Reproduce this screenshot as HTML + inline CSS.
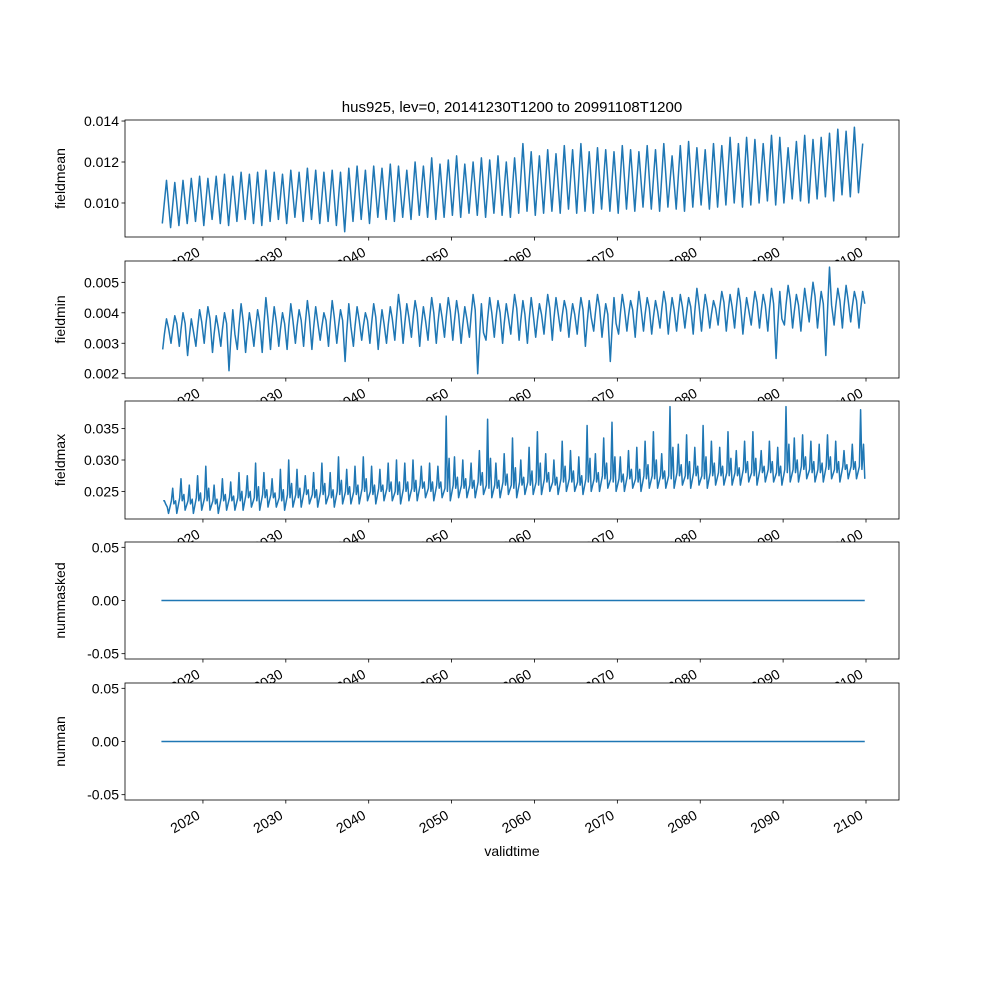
<!DOCTYPE html>
<html><head><meta charset="utf-8"><style>
body{margin:0;background:#fff}
svg text{font-family:"Liberation Sans","DejaVu Sans",sans-serif;font-size:14px;fill:#000}
</style></head><body>
<svg id="chart" width="1000" height="1000" xmlns="http://www.w3.org/2000/svg"></svg>
<script>
const years=[];for(let y=2015;y<=2099;y++)years.push(y);
const meanPeak=[11.1,11.0,11.1,11.2,11.3,11.2,11.3,11.4,11.3,11.5,11.4,11.5,11.6,11.5,11.4,11.6,11.5,11.7,11.6,11.5,11.6,11.5,11.7,11.8,11.6,11.8,11.7,11.9,11.8,11.6,12.0,11.8,12.2,11.9,12.1,12.3,11.9,12.0,12.2,12.1,12.3,12.0,12.2,12.9,12.5,12.3,12.6,12.4,12.8,12.6,12.9,12.5,12.7,12.6,12.5,12.8,12.6,12.5,12.8,12.6,12.9,12.3,12.8,13.0,12.7,12.6,12.9,12.8,13.2,12.9,13.2,13.1,12.9,13.3,13.2,12.7,13.0,13.3,13.1,13.2,13.4,13.6,13.5,13.7,12.9];
const meanTrough=[9.0,8.8,8.9,9.0,9.1,8.9,9.2,9.0,8.9,9.1,9.2,9.0,8.9,9.1,9.2,9.0,9.3,9.1,9.2,9.0,9.1,8.9,8.6,9.1,9.2,9.0,9.3,9.2,9.1,9.3,9.2,9.4,9.3,9.2,9.3,9.4,9.3,9.5,9.4,9.3,9.5,9.4,9.3,9.5,9.6,9.4,9.5,9.6,9.5,9.7,9.5,9.6,9.5,9.7,9.6,9.5,9.7,9.6,9.8,9.7,9.6,9.8,9.7,9.6,9.8,9.9,9.7,9.8,9.9,10.0,9.8,9.9,10.0,10.1,9.9,10.0,10.2,10.1,10.0,10.2,10.3,10.1,10.4,10.3,10.5];
const minPeak=[3.8,3.9,4.0,3.8,4.1,4.2,3.9,4.0,4.1,4.3,4.0,4.1,4.5,4.2,4.0,4.3,4.1,4.4,4.2,4.0,4.4,4.1,4.3,4.2,4.0,4.3,4.1,4.2,4.6,4.3,4.4,4.2,4.5,4.3,4.5,4.4,4.2,4.6,4.3,4.5,4.4,4.3,4.6,4.4,4.5,4.3,4.6,4.5,4.4,4.3,4.5,4.4,4.6,4.3,4.5,4.6,4.4,4.7,4.5,4.4,4.7,4.5,4.6,4.5,4.8,4.6,4.4,4.7,4.6,4.8,4.5,4.7,4.6,4.8,4.7,4.9,4.6,4.8,5.0,4.7,5.5,4.8,4.9,4.7,4.7];
const minTrough=[2.8,3.0,2.9,2.6,2.9,3.0,2.7,2.9,2.1,2.8,2.7,2.9,2.7,2.8,2.9,2.8,3.0,2.9,2.8,3.1,2.9,3.0,2.4,2.9,3.1,3.0,2.8,3.0,3.1,3.0,3.2,2.9,3.1,3.0,3.2,3.1,3.0,3.2,2.0,3.1,3.2,3.0,3.3,3.1,3.0,3.2,3.3,3.1,3.4,3.2,3.3,2.9,3.4,3.2,2.4,3.3,3.4,3.2,3.4,3.3,3.5,3.3,3.4,3.5,3.3,3.4,3.5,3.6,3.4,3.5,3.3,3.6,3.5,3.4,2.5,3.6,3.5,3.4,3.7,3.5,2.6,3.6,3.5,3.7,3.5];
const maxHigh=[23.5,25.5,27.0,26.0,27.5,29.0,26.0,27.0,26.5,28.0,27.5,29.5,28.0,27.0,28.5,30.0,28.5,27.5,28.0,29.5,28.0,30.5,28.5,29.0,30.5,29.0,28.5,29.5,30.0,29.5,30.0,29.0,29.5,29.0,37.0,30.5,30.0,29.5,31.5,36.5,29.5,31.0,33.5,30.0,32.0,34.5,31.0,30.0,33.0,31.5,30.5,35.5,31.0,33.5,36.0,30.5,31.5,32.0,33.0,34.5,31.0,38.5,32.5,34.0,32.0,35.5,33.0,32.0,34.5,31.5,33.0,34.5,31.5,33.0,32.0,38.5,33.5,34.0,33.0,32.5,34.0,33.0,31.5,32.5,38.0];
const maxLow=[21.5,21.5,22.0,21.5,22.0,22.0,21.5,22.0,22.0,22.0,22.5,22.0,22.5,22.5,22.0,22.5,22.5,23.0,22.5,23.0,22.5,23.0,23.0,23.0,23.5,23.0,23.5,23.5,23.0,23.5,23.5,24.0,23.5,24.0,23.5,24.0,24.0,24.0,24.5,24.0,24.0,24.5,24.0,24.5,24.5,24.5,25.0,24.5,25.0,25.0,24.5,25.0,25.0,25.5,25.0,25.0,25.5,25.0,25.5,25.5,25.5,25.5,26.0,25.5,26.0,25.5,26.0,26.0,26.0,26.0,26.5,26.0,26.5,26.5,26.0,26.5,26.5,27.0,26.5,26.5,27.0,26.5,27.0,27.0,27.0];
const xTicks=[2020,2030,2040,2050,2060,2070,2080,2090,2100];

const NS="http://www.w3.org/2000/svg",svg=document.getElementById('chart');
const L=125,R=899,X0=2015,X1=2100,xa=161.5,xb=866;
const xs=t=>xa+(t-X0)*(xb-xa)/(X1-X0);
function mk(tag,attrs,parent){const e=document.createElementNS(NS,tag);for(const k in attrs)e.setAttribute(k,attrs[k]);(parent||svg).appendChild(e);return e;}
const panels=[
 {name:'fieldmean',top:120,bot:237,lo:0.00834,hi:0.01405,ticks:[0.010,0.012,0.014],fmt:v=>v.toFixed(3)},
 {name:'fieldmin',top:261,bot:378,lo:0.00186,hi:0.00570,ticks:[0.002,0.003,0.004,0.005],fmt:v=>v.toFixed(3)},
 {name:'fieldmax',top:401,bot:519,lo:0.0206,hi:0.0394,ticks:[0.025,0.030,0.035],fmt:v=>v.toFixed(3)},
 {name:'nummasked',top:542,bot:659,lo:-0.055,hi:0.055,ticks:[-0.05,0,0.05],fmt:v=>v.toFixed(2)},
 {name:'numnan',top:683,bot:800,lo:-0.055,hi:0.055,ticks:[-0.05,0,0.05],fmt:v=>v.toFixed(2)}];
const t=mk('text',{x:512,y:112,'text-anchor':'middle'});


t.textContent='hus925, lev=0, 20141230T1200 to 20991108T1200';t.style.fontSize='15px';
function seriesPts(i){
 const pts=[];
 years.forEach((y,k)=>{
  if(i===0){pts.push([y+0.1,meanTrough[k]*1e-3]);pts.push([y+0.6,meanPeak[k]*1e-3]);}
  else if(i===1){pts.push([y+0.15,minTrough[k]*1e-3]);pts.push([y+0.35,(minTrough[k]+minPeak[k])/2e3]);pts.push([y+0.6,minPeak[k]*1e-3]);pts.push([y+0.85,(minTrough[k]+minPeak[k])/2e3+0.0002]);}
  else if(i===2){pts.push([y+0.2,maxLow[k]*1e-3+0.002]);pts.push([y+0.35,maxHigh[k]*1e-3]);pts.push([y+0.5,maxLow[k]*1e-3+0.0015]);pts.push([y+0.7,(maxHigh[k]+maxLow[k])/2e3]);pts.push([y+0.85,maxLow[k]*1e-3]);}
 });
 return pts;
}
panels.forEach((p,i)=>{
 const g=mk('g',{});
 
 
 const ys=v=>p.bot-(v-p.lo)*(p.bot-p.top)/(p.hi-p.lo);
 mk('rect',{x:L,y:p.top,width:R-L,height:p.bot-p.top,fill:'#fff'},g);
 let d='';
 if(i<3){seriesPts(i).forEach((q,k)=>{d+=(k?'L':'M')+xs(q[0]).toFixed(1)+','+ys(q[1]).toFixed(1);});}
 else d='M'+xs(2014.99)+','+ys(0)+'L'+xs(2099.85)+','+ys(0);
 const ln=mk('path',{d:d,fill:'none',stroke:'#1f77b4','stroke-width':1.5,'stroke-linejoin':'round'},g);
 
 
 mk('rect',{x:L,y:p.top,width:R-L,height:p.bot-p.top,fill:'none',stroke:'#000','stroke-width':0.8},g);
 p.ticks.forEach(v=>{const y=ys(v);mk('line',{x1:L-3.5,x2:L,y1:y,y2:y,stroke:'#000','stroke-width':0.8},g);
  const tx=mk('text',{x:L-6,y:y+5,'text-anchor':'end'},g);
  
  
  tx.textContent=p.fmt(v);});
 const yl=mk('text',{x:0,y:0,'text-anchor':'middle',transform:`translate(65,${(p.top+p.bot)/2}) rotate(-90)`},g);
 
 
 yl.textContent=p.name;
 xTicks.forEach(v=>{const x=xs(v);mk('line',{x1:x,x2:x,y1:p.bot,y2:p.bot+3.5,stroke:'#000','stroke-width':0.8},g);
  const tx=mk('text',{x:0,y:0,'text-anchor':'end',transform:`translate(${x-2},${p.bot+18}) rotate(-30)`},g);
  
  
  tx.textContent=v;});
});
const xl=mk('text',{x:512,y:856,'text-anchor':'middle'});


xl.textContent='validtime';
</script>
</body></html>
